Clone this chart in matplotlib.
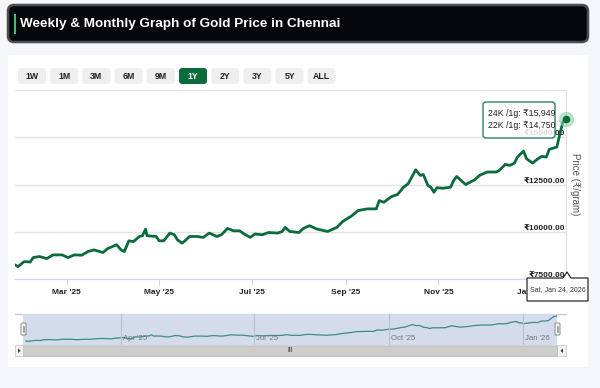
import numpy as np
import matplotlib
matplotlib.use("Agg")
import matplotlib.pyplot as plt
from matplotlib.patches import FancyBboxPatch, Rectangle, Polygon

# figure size in pixels
W, H = 600, 388

plt.rcParams['font.family'] = ['Liberation Sans', 'DejaVu Sans']

# ---- data (24K price per gram) ----
dates = ["2025-01-26", "2025-01-28", "2025-02-01", "2025-02-05", "2025-02-07", "2025-02-11",
         "2025-02-16", "2025-02-20", "2025-02-26", "2025-03-02", "2025-03-06", "2025-03-11",
         "2025-03-15", "2025-03-19", "2025-03-25", "2025-03-28", "2025-04-03", "2025-04-06",
         "2025-04-08", "2025-04-11", "2025-04-14", "2025-04-18", "2025-04-20", "2025-04-22",
         "2025-04-23", "2025-04-29", "2025-05-01", "2025-05-04", "2025-05-08", "2025-05-11",
         "2025-05-13", "2025-05-16", "2025-05-18", "2025-05-21", "2025-05-26", "2025-05-30",
         "2025-06-03", "2025-06-08", "2025-06-11", "2025-06-15", "2025-06-19", "2025-06-23",
         "2025-06-26", "2025-06-30", "2025-07-03", "2025-07-08", "2025-07-12", "2025-07-18",
         "2025-07-21", "2025-07-23", "2025-07-26", "2025-08-01", "2025-08-04", "2025-08-08",
         "2025-08-13", "2025-08-20", "2025-08-26", "2025-08-30", "2025-09-05", "2025-09-09",
         "2025-09-15", "2025-09-21", "2025-09-23", "2025-09-26", "2025-10-01", "2025-10-05",
         "2025-10-09", "2025-10-12", "2025-10-15", "2025-10-17", "2025-10-20", "2025-10-22",
         "2025-10-25", "2025-10-27", "2025-10-29", "2025-10-31", "2025-11-04", "2025-11-09",
         "2025-11-11", "2025-11-13", "2025-11-17", "2025-11-19", "2025-11-22", "2025-11-25",
         "2025-11-28", "2025-12-03", "2025-12-09", "2025-12-11", "2025-12-15", "2025-12-18",
         "2025-12-21", "2025-12-23", "2025-12-27", "2025-12-29", "2026-01-02", "2026-01-05",
         "2026-01-08", "2026-01-11", "2026-01-13", "2026-01-18", "2026-01-20", "2026-01-22",
         "2026-01-24"]
price_24k = [8245, 8155, 8420, 8400, 8633, 8690,
             8580, 8776, 8776, 8633, 8776, 8760,
             8950, 9040, 8900, 9110, 9310, 9030,
             8950, 9520, 9480, 9750, 9790, 10140,
             9790, 9750, 9520, 9520, 9930, 9840,
             9575, 9400, 9520, 9750, 9750, 9700,
             9930, 9750, 9840, 10175, 10050, 10050,
             9880, 9700, 9880, 9840, 9960, 9930,
             10015, 10230, 10015, 9960, 10175, 10320,
             10140, 10015, 10230, 10550, 10850, 11120,
             11210, 11210, 11650, 11560, 11860, 11970,
             12360, 12540, 12980, 13280, 12980, 13030,
             12450, 12360, 12090, 12330, 12300, 12360,
             12710, 12925, 12630, 12500, 12630, 12755,
             12980, 13160, 13160, 13245, 13565, 13510,
             13630, 13950, 14270, 13865, 13630, 13830,
             13990, 13950, 14360, 14485, 15195, 15815,
             15949]

x_ticks = ["2025-03-01", "2025-05-01", "2025-07-01", "2025-09-01", "2025-11-01", "2026-01-01"]
x_tick_labels = ["Mar '25", "May '25", "Jul '25", "Sep '25", "Nov '25", "Jan '26"]
y_ticks = [7500, 10000, 12500, 15000, 17500]
nav_ticks = ["2025-04-01", "2025-07-01", "2025-10-01", "2026-01-01"]
nav_labels = ["Apr '25", "Jul '25", "Oct '25", "Jan '26"]
ranges = ["1W", "1M", "3M", "6M", "9M", "1Y", "2Y", "3Y", "5Y", "ALL"]
active_range = "1Y"
tip_24k = "₹15,949"
tip_22k = "₹14,750"
tip_date = "Sat, Jan 24, 2026"
title = "Weekly & Monthly Graph of Gold Price in Chennai"

GREEN = '#0a6b3c'
d = np.array(dates, dtype='datetime64[D]')
p = np.array(price_24k)


def frac(x0, y0, x1, y1):
    # pixel box (top-left origin) -> figure fraction rect
    return [x0 / W, 1 - y1 / H, (x1 - x0) / W, (y1 - y0) / H]


fig = plt.figure(figsize=(W / 100, H / 100), dpi=100, facecolor='#f4f6f9')

# background layer in pixel coordinates
bg = fig.add_axes([0, 0, 1, 1], zorder=0)
bg.set_xlim(0, W)
bg.set_ylim(H, 0)
bg.axis('off')

bg.add_patch(Rectangle((8, 55), 580, 312, fc='white', ec='none'))
bg.add_patch(FancyBboxPatch((8, 5), 580, 37, boxstyle='round,pad=0,rounding_size=6',
                            fc='#05070b', ec='#4a4d52', lw=1.8))
bg.add_patch(Rectangle((14, 14), 2.2, 20, fc='#3fbf7f', ec='none'))
bg.text(20, 24, title, color='white', fontsize=9.7, fontweight='bold', va='center', ha='left')

# range buttons
for i, r in enumerate(ranges):
    x0 = 18 + i * 32.2
    on = r == active_range
    bg.add_patch(FancyBboxPatch((x0, 68), 28, 16, boxstyle='round,pad=0,rounding_size=3',
                                fc=GREEN if on else '#efefef', ec='none'))
    bg.text(x0 + 14, 76.5, r, color='white' if on else '#222', fontsize=6.3, fontweight='bold',
            ha='center', va='center')

# navigator frame + scrollbar
bg.plot([15, 566], [314, 314], color='#cccccc', lw=1)
bg.add_patch(Rectangle((15, 345), 551, 11, fc='#f2f2f2', ec='#cccccc', lw=0.6))
bg.add_patch(Rectangle((23, 345.5), 534, 10, fc='#cdcdcd', ec='#bbbbbb', lw=0.5))
bg.text(290, 351, "III", fontsize=5, color='#333', ha='center', va='center')
bg.add_patch(Polygon([[18, 348.5], [18, 353], [20.5, 350.8]], fc='#333', ec='none'))
bg.add_patch(Polygon([[563, 348.5], [563, 353], [560.5, 350.8]], fc='#333', ec='none'))

# ---- main chart ----
ax = fig.add_axes(frac(15, 90, 566, 279), zorder=2)
ax.set_facecolor('none')
ax.plot(d, p, color=GREEN, lw=2.0, solid_joinstyle='round', zorder=3)
ax.plot(d[-1:], p[-1:], 'o', ms=10, color='#8ccfa9', alpha=0.55, clip_on=False, zorder=4)
ax.plot(d[-1:], p[-1:], 'o', ms=4.5, color=GREEN, clip_on=False, zorder=5)

ax.set_xlim(np.datetime64('2025-01-26'), np.datetime64('2026-01-24'))
ax.set_ylim(7500, 17500)
ax.set_yticks(y_ticks)
ax.yaxis.grid(True, color='#e3e3e3', lw=1)
ax.tick_params(axis='y', length=0, labelleft=False)
ax.set_xticks(np.array(x_ticks, dtype='datetime64[D]'))
ax.set_xticklabels(x_tick_labels, fontsize=6.0, fontweight='bold', color='#222')
ax.tick_params(axis='x', length=4, color='#ccd6eb', pad=3.5)
for s in ['top', 'left']:
    ax.spines[s].set_visible(False)
ax.spines['bottom'].set_color('#ccd6eb')
ax.spines['right'].set_color('#e0e0e0')
ax.set_axisbelow(True)

for v in y_ticks[:-1]:
    ax.text(0.998, v, f"₹{v}.00", transform=ax.get_yaxis_transform(), ha='right', va='bottom',
            fontsize=6.0, fontweight='bold', color='#222', zorder=2)

ax.text(1.017, 0.5, "Price (₹/gram)", transform=ax.transAxes, rotation=270, ha='center',
        va='center', fontsize=7, color='#555')

# ---- navigator ----
nav = fig.add_axes(frac(23, 314, 557, 345), zorder=1)
nav.set_facecolor('#d3dbec')
nav.plot(d, p, color='#3b8c8a', lw=0.9)
nav.set_xlim(np.datetime64('2025-01-24'), np.datetime64('2026-01-24'))
nav.set_ylim(7013, 16561)
nav.set_xticks([])
nav.set_yticks([])
for s in nav.spines.values():
    s.set_visible(False)
for t, lab in zip(np.array(nav_ticks, dtype='datetime64[D]'), nav_labels):
    nav.axvline(t, color='#b8c2d6', lw=0.8)
    nav.annotate(lab, (t, 0), xycoords=('data', 'axes fraction'), xytext=(1.5, 2),
                 textcoords='offset points', fontsize=5.6, color='#777', ha='left', va='bottom')

# ---- overlay (tooltips, handles) ----
ov = fig.add_axes([0, 0, 1, 1], zorder=5)
ov.set_xlim(0, W)
ov.set_ylim(H, 0)
ov.axis('off')

for hx in (21, 555):
    ov.add_patch(FancyBboxPatch((hx, 323), 5, 12, boxstyle='round,pad=0,rounding_size=1',
                                fc='#f5f5f5', ec='#888', lw=0.7))
    ov.plot([hx + 2, hx + 2], [326, 332], color='#888', lw=0.5)
    ov.plot([hx + 3, hx + 3], [326, 332], color='#888', lw=0.5)

ov.add_patch(FancyBboxPatch((483, 102), 72, 36, boxstyle='round,pad=0,rounding_size=3',
                            fc='white', ec=GREEN, lw=1, alpha=0.85))
ov.text(487.5, 114, f"24K /1g: {tip_24k}", fontsize=6.3, color='#222', va='center', ha='left')
ov.text(487.5, 126, f"22K /1g: {tip_22k}", fontsize=6.3, color='#222', va='center', ha='left')

ov.add_patch(Polygon([[527, 278], [563, 278], [567, 272], [571, 278], [588, 278],
                      [588, 301], [527, 301]], closed=True, fc='white', ec='#111', lw=0.8))
ov.text(557.5, 289.5, tip_date, fontsize=5.0, color='#333', ha='center', va='center')

fig.savefig('out.png', dpi=100, facecolor=fig.get_facecolor())
